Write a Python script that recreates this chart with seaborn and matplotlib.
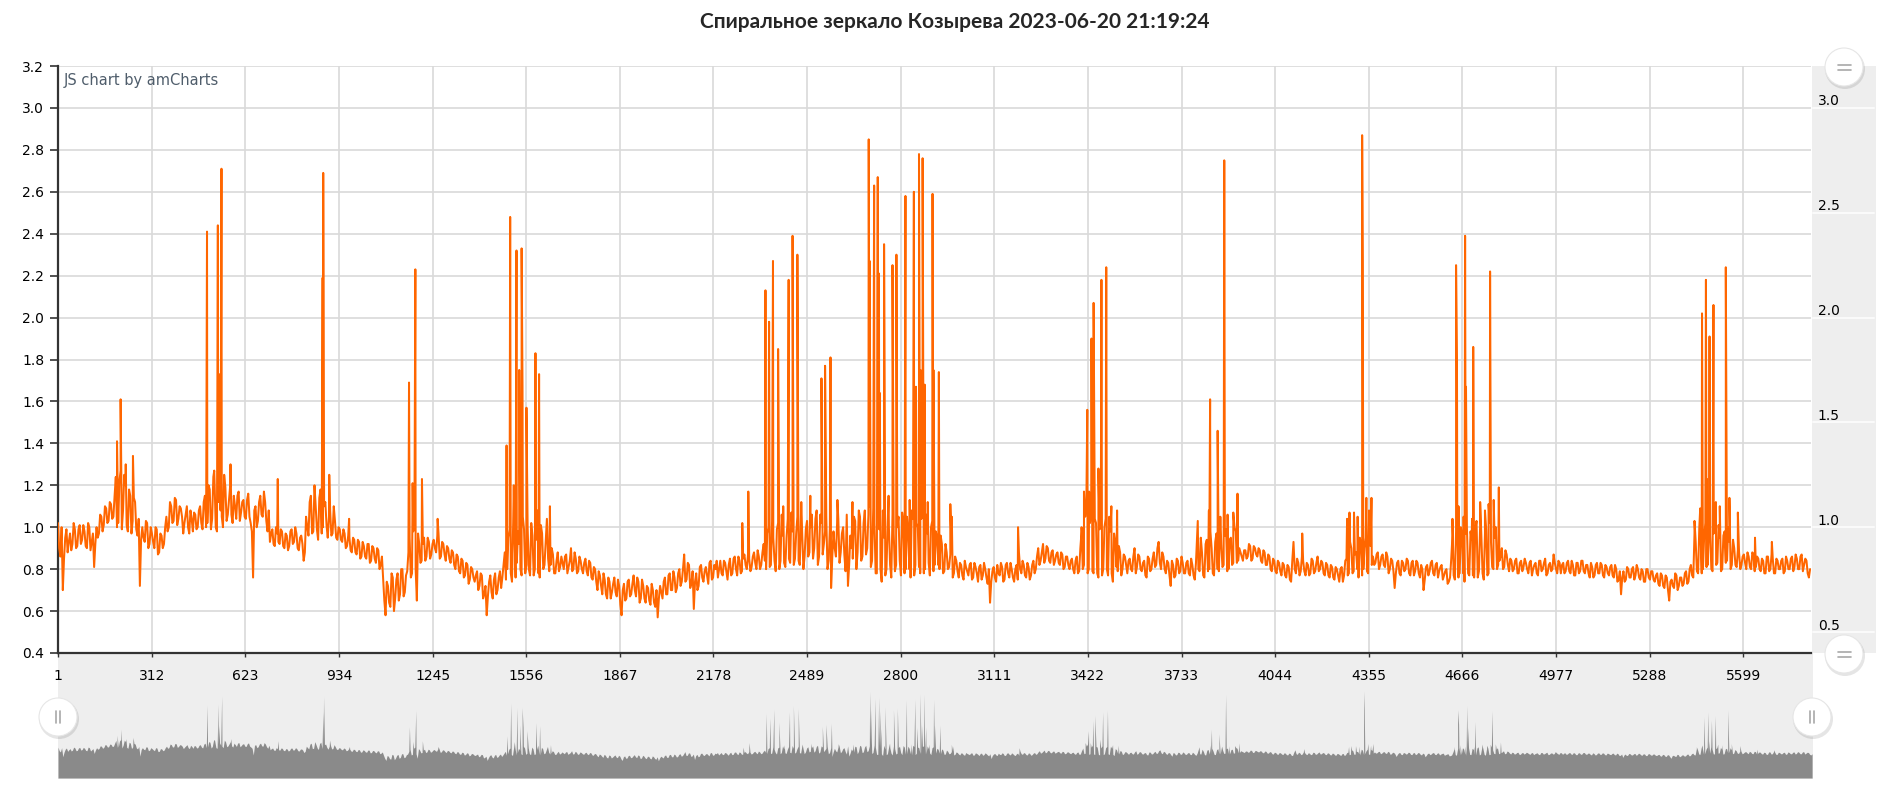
import numpy as np
import pandas as pd
import matplotlib
matplotlib.use("Agg")
import matplotlib.pyplot as plt
from matplotlib.patches import Circle
import seaborn as sns

# ---------------- data ----------------
title = "Спиральное зеркало Козырева 2023-06-20 21:19:24"
x_tick_labels = [1, 312, 623, 934, 1245, 1556, 1867, 2178, 2489, 2800, 3111,
                 3422, 3733, 4044, 4355, 4666, 4977, 5288, 5599]
y_left_ticks = [0.4, 0.6, 0.8, 1.0, 1.2, 1.4, 1.6, 1.8, 2.0, 2.2, 2.4, 2.6, 2.8, 3.0, 3.2]
y_right_ticks = [0.5, 1.0, 1.5, 2.0, 2.5, 3.0]
n_points = 5824

# background level at samples 1, 9, 17, ... (one row = one grid cell of 311 samples)
level = [
    1.02, 0.86, 0.70, 0.95, 0.88, 0.97, 0.92, 0.99, 0.91, 1.01, 0.94, 0.98, 0.90, 1.00, 0.93, 0.81, 1.00, 0.97, 1.05, 1.01, 1.09, 1.03, 1.11, 1.05, 1.24, 1.02, 1.27, 1.08, 1.20, 0.98, 1.15, 1.03, 1.12, 0.96, 0.72, 1.00, 0.93, 1.02, 0.92,
    0.97, 0.90, 0.99, 0.88, 0.96, 0.92, 1.05, 1.00, 1.10, 1.03, 1.13, 1.04, 1.09, 0.97, 1.06, 1.00, 1.08, 0.98, 1.06, 1.00, 1.10, 0.99, 1.15, 1.02, 1.18, 1.04, 1.22, 0.98, 1.16, 1.05, 1.25, 1.03, 1.13, 1.06, 1.15, 1.04, 1.17, 1.07, 1.13,
    1.04, 1.16, 1.02, 0.76, 1.10, 1.03, 1.15, 1.05, 1.12, 0.98, 0.93, 0.99, 0.91, 0.97, 0.92, 0.98, 0.90, 0.96, 0.91, 0.99, 0.93, 0.97, 0.89, 0.96, 0.84, 1.05, 0.96, 1.15, 0.98, 1.10, 0.94, 1.18, 1.00, 1.12, 0.95, 1.08, 0.97, 1.03, 0.94,
    0.99, 0.93, 0.97, 0.91, 0.95, 0.88, 0.94, 0.87, 0.93, 0.86, 0.91, 0.85, 0.92, 0.84, 0.90, 0.83, 0.89, 0.82, 0.75, 0.58, 0.72, 0.62, 0.76, 0.66, 0.78, 0.68, 0.80, 0.69, 0.79, 0.95, 0.78, 1.02, 0.65, 0.92, 0.84, 0.95, 0.86, 0.93, 0.87,
    0.94, 0.88, 0.97, 0.86, 0.92, 0.84, 0.90, 0.83, 0.88, 0.80, 0.86, 0.78, 0.84, 0.77, 0.82, 0.75, 0.80, 0.74, 0.79, 0.72, 0.77, 0.68, 0.58, 0.74, 0.69, 0.75, 0.68, 0.76, 0.71, 0.82, 0.75, 0.95, 0.78, 1.02, 0.76, 0.98, 0.80, 1.05, 0.78,
    1.00, 0.77, 0.96, 0.80, 1.08, 0.76, 0.97, 0.82, 1.04, 0.79, 0.90, 0.78, 0.84, 0.79, 0.86, 0.80, 0.87, 0.81, 0.90, 0.80, 0.85, 0.79, 0.84, 0.78, 0.85, 0.77, 0.83, 0.75, 0.80, 0.70, 0.77, 0.68, 0.75, 0.66, 0.74, 0.69, 0.76, 0.67, 0.72,
    0.58, 0.73, 0.66, 0.75, 0.68, 0.77, 0.67, 0.74, 0.66, 0.72, 0.64, 0.71, 0.63, 0.70, 0.62, 0.57, 0.72, 0.66, 0.76, 0.68, 0.78, 0.70, 0.76, 0.71, 0.80, 0.74, 0.87, 0.75, 0.82, 0.73, 0.61, 0.78, 0.72, 0.82, 0.74, 0.81, 0.73, 0.84, 0.76,
    0.80, 0.76, 0.84, 0.77, 0.83, 0.75, 0.85, 0.78, 0.86, 0.77, 0.84, 0.79, 0.87, 0.80, 0.85, 0.81, 0.88, 0.80, 0.86, 0.82, 0.92, 0.80, 1.00, 0.82, 0.95, 0.79, 1.02, 0.84, 0.96, 0.81, 1.04, 0.83, 0.98, 0.85, 1.05, 0.82, 0.97, 0.86, 1.03,
    0.88, 1.06, 0.90, 1.08, 0.86, 1.02, 0.92, 1.05, 0.84, 0.71, 0.98, 0.86, 1.04, 0.88, 1.00, 0.79, 0.72, 0.96, 0.85, 1.03, 0.88, 1.05, 0.86, 1.08, 0.90, 1.10, 0.84, 1.02, 0.78, 0.99, 0.74, 0.95, 0.80, 1.00, 0.76, 0.97, 0.82, 1.05, 0.77,
    1.02, 0.80, 0.98, 0.76, 1.04, 0.82, 1.00, 0.78, 1.06, 0.80, 0.97, 0.77, 1.03, 0.82, 0.95, 0.80, 0.92, 0.79, 0.88, 0.81, 0.90, 0.78, 0.84, 0.76, 0.82, 0.75, 0.81, 0.77, 0.83, 0.76, 0.81, 0.74, 0.82, 0.77, 0.80, 0.73, 0.64, 0.79, 0.76,
    0.82, 0.77, 0.81, 0.75, 0.83, 0.76, 0.80, 0.74, 0.82, 0.88, 0.78, 0.82, 0.76, 0.81, 0.77, 0.84, 0.80, 0.90, 0.84, 0.92, 0.85, 0.90, 0.83, 0.89, 0.84, 0.88, 0.82, 0.87, 0.81, 0.86, 0.80, 0.85, 0.78, 0.86, 0.79, 0.98, 0.82, 1.12, 0.80,
    1.08, 0.78, 1.02, 0.76, 1.06, 0.80, 1.04, 0.77, 0.98, 0.74, 0.93, 0.79, 0.88, 0.80, 0.86, 0.78, 0.85, 0.79, 0.90, 0.81, 0.86, 0.79, 0.84, 0.76, 0.85, 0.80, 0.88, 0.82, 0.93, 0.80, 0.86, 0.78, 0.83, 0.72, 0.82, 0.77, 0.84, 0.79, 0.83,
    0.78, 0.84, 0.77, 0.82, 0.75, 0.96, 0.79, 0.88, 0.76, 0.94, 0.80, 0.90, 0.77, 0.97, 0.79, 0.92, 0.82, 0.99, 0.80, 0.95, 0.83, 0.98, 0.84, 0.88, 0.84, 0.89, 0.86, 0.91, 0.85, 0.90, 0.86, 0.89, 0.83, 0.88, 0.82, 0.86, 0.79, 0.84, 0.78,
    0.83, 0.77, 0.82, 0.76, 0.81, 0.74, 0.93, 0.78, 0.83, 0.79, 0.84, 0.77, 0.82, 0.78, 0.84, 0.79, 0.86, 0.80, 0.83, 0.77, 0.82, 0.76, 0.81, 0.75, 0.80, 0.74, 0.81, 0.77, 0.85, 0.78, 0.90, 0.79, 0.88, 0.76, 0.92, 0.80, 0.95, 0.78, 0.91,
    0.86, 0.83, 0.88, 0.82, 0.87, 0.81, 0.86, 0.80, 0.84, 0.71, 0.83, 0.78, 0.84, 0.79, 0.85, 0.78, 0.83, 0.77, 0.84, 0.78, 0.82, 0.70, 0.81, 0.77, 0.83, 0.78, 0.82, 0.76, 0.81, 0.75, 0.79, 0.73, 0.76, 0.96, 0.75, 1.02, 0.78, 0.95, 0.74,
    1.00, 0.77, 0.94, 0.76, 1.03, 0.79, 0.96, 0.75, 0.99, 0.78, 0.93, 0.80, 1.00, 0.82, 0.86, 0.80, 0.89, 0.82, 0.85, 0.79, 0.84, 0.78, 0.83, 0.79, 0.85, 0.80, 0.83, 0.77, 0.82, 0.78, 0.84, 0.79, 0.83, 0.77, 0.82, 0.79, 0.87, 0.80, 0.84,
    0.78, 0.83, 0.79, 0.84, 0.78, 0.82, 0.77, 0.83, 0.79, 0.84, 0.78, 0.82, 0.76, 0.81, 0.77, 0.83, 0.78, 0.82, 0.76, 0.81, 0.77, 0.82, 0.76, 0.80, 0.75, 0.68, 0.79, 0.75, 0.80, 0.76, 0.81, 0.77, 0.80, 0.75, 0.79, 0.74, 0.80, 0.75, 0.79,
    0.74, 0.78, 0.72, 0.77, 0.71, 0.76, 0.65, 0.75, 0.71, 0.77, 0.72, 0.76, 0.73, 0.79, 0.74, 0.82, 0.76, 0.93, 0.78, 0.98, 0.80, 1.02, 0.82, 0.96, 0.79, 1.00, 0.83, 0.95, 0.80, 0.98, 0.84, 0.93, 0.82, 0.90, 0.81, 0.88, 0.82, 0.87, 0.80,
    0.86, 0.80, 0.87, 0.81, 0.85, 0.79, 0.84, 0.78, 0.86, 0.80, 0.85, 0.78, 0.84, 0.80, 0.85, 0.79, 0.84, 0.80, 0.86, 0.81, 0.85, 0.80, 0.87, 0.82, 0.84, 0.76,
]

# in-between samples 5, 13, 21, ... (same row layout)
level_b = [
    0.90, 1.00, 0.85, 0.99, 0.93, 0.89, 1.02, 0.90, 0.99, 0.92, 1.01, 0.91, 1.02, 0.89, 0.97, 0.92, 0.95, 1.06, 0.98, 1.10, 1.02, 1.12, 1.04, 1.15, 1.00, 1.22, 0.99, 1.25, 1.01, 1.18, 0.97, 1.14, 0.99, 1.04, 0.94, 0.95, 1.03, 0.90, 1.00,
    0.93, 1.00, 0.87, 0.97, 0.90, 1.00, 0.98, 1.12, 1.02, 1.14, 1.01, 1.10, 1.05, 1.02, 1.10, 0.97, 1.04, 1.07, 0.99, 1.08, 1.02, 1.12, 1.00, 1.20, 0.99, 1.24, 1.00, 1.12, 1.08, 1.00, 1.19, 1.06, 1.20, 1.02, 1.10, 1.15, 1.03, 1.12, 1.05,
    1.13, 1.05, 0.98, 1.08, 1.00, 1.12, 1.06, 1.17, 1.03, 1.08, 0.97, 0.92, 1.00, 0.93, 0.99, 0.91, 0.97, 0.89, 0.98, 0.92, 1.00, 0.90, 0.95, 0.92, 0.88, 1.00, 1.12, 0.97, 1.20, 0.99, 1.14, 0.97, 1.10, 1.01, 1.05, 0.96, 1.10, 0.95, 1.00,
    0.94, 0.99, 0.90, 0.96, 0.89, 0.95, 0.88, 0.94, 0.85, 0.93, 0.86, 0.92, 0.83, 0.91, 0.85, 0.90, 0.80, 0.86, 0.65, 0.74, 0.64, 0.78, 0.60, 0.75, 0.65, 0.80, 0.67, 0.77, 0.88, 0.76, 0.98, 0.80, 0.97, 0.83, 0.92, 0.84, 0.95, 0.85, 0.92,
    0.90, 0.96, 0.85, 0.93, 0.87, 0.91, 0.85, 0.89, 0.82, 0.87, 0.79, 0.85, 0.76, 0.83, 0.73, 0.81, 0.76, 0.77, 0.70, 0.78, 0.66, 0.72, 0.67, 0.77, 0.66, 0.78, 0.70, 0.79, 0.76, 0.88, 0.80, 0.99, 0.74, 1.00, 0.83, 0.92, 0.77, 0.99, 0.82,
    0.80, 1.02, 0.77, 0.94, 0.78, 1.01, 0.80, 0.93, 0.85, 0.82, 0.87, 0.78, 0.88, 0.81, 0.83, 0.86, 0.78, 0.84, 0.79, 0.88, 0.78, 0.86, 0.80, 0.83, 0.79, 0.84, 0.76, 0.81, 0.74, 0.79, 0.72, 0.78, 0.68, 0.76, 0.66, 0.73, 0.69, 0.75, 0.63,
    0.70, 0.65, 0.74, 0.67, 0.73, 0.70, 0.76, 0.64, 0.75, 0.66, 0.72, 0.65, 0.73, 0.64, 0.70, 0.66, 0.69, 0.74, 0.68, 0.77, 0.70, 0.79, 0.69, 0.78, 0.72, 0.80, 0.74, 0.83, 0.71, 0.79, 0.74, 0.70, 0.81, 0.76, 0.79, 0.77, 0.83, 0.75, 0.82,
    0.84, 0.80, 0.78, 0.84, 0.79, 0.82, 0.77, 0.85, 0.80, 0.86, 0.78, 0.85, 0.82, 0.87, 0.79, 0.86, 0.83, 0.89, 0.80, 0.88, 0.84, 0.97, 0.81, 1.03, 0.84, 0.99, 0.80, 1.06, 0.83, 0.95, 0.85, 1.07, 0.82, 0.97, 0.84, 1.05, 0.80, 0.99, 0.86,
    1.00, 0.85, 1.04, 0.82, 1.06, 0.87, 0.98, 0.80, 1.00, 0.86, 0.90, 1.02, 0.83, 0.97, 0.87, 1.06, 0.82, 0.90, 1.05, 0.80, 1.08, 0.84, 1.02, 0.87, 1.06, 0.81, 1.09, 0.78, 1.05, 0.80, 1.08, 0.77, 1.02, 0.82, 1.06, 0.79, 1.00, 0.84, 1.07,
    0.78, 1.05, 0.80, 1.08, 0.77, 1.02, 0.81, 1.04, 0.78, 1.06, 0.83, 1.00, 0.79, 0.98, 0.82, 0.96, 0.78, 0.92, 0.80, 0.87, 0.76, 0.86, 0.79, 0.83, 0.77, 0.84, 0.79, 0.82, 0.75, 0.83, 0.78, 0.81, 0.75, 0.83, 0.76, 0.80, 0.74, 0.81, 0.74,
    0.78, 0.83, 0.74, 0.82, 0.78, 0.83, 0.76, 0.80, 0.75, 0.80, 0.84, 0.77, 0.83, 0.75, 0.82, 0.78, 0.86, 0.82, 0.88, 0.83, 0.91, 0.84, 0.88, 0.82, 0.87, 0.83, 0.88, 0.80, 0.86, 0.82, 0.84, 0.80, 0.84, 0.78, 0.90, 0.80, 1.05, 0.78, 1.02,
    0.79, 1.04, 0.78, 0.99, 0.77, 1.00, 0.80, 1.05, 0.78, 0.97, 0.81, 0.91, 0.77, 0.87, 0.82, 0.84, 0.80, 0.86, 0.78, 0.87, 0.80, 0.83, 0.77, 0.86, 0.79, 0.85, 0.81, 0.90, 0.83, 0.88, 0.80, 0.84, 0.77, 0.84, 0.76, 0.85, 0.78, 0.86, 0.78,
    0.83, 0.78, 0.85, 0.77, 0.83, 0.80, 0.95, 0.77, 0.92, 0.79, 0.98, 0.78, 0.93, 0.80, 1.00, 0.81, 0.96, 0.79, 0.94, 0.82, 1.00, 0.83, 0.90, 0.86, 0.89, 0.85, 0.92, 0.84, 0.91, 0.87, 0.90, 0.84, 0.89, 0.82, 0.87, 0.80, 0.85, 0.79, 0.84,
    0.79, 0.83, 0.77, 0.82, 0.75, 0.84, 0.80, 0.85, 0.77, 0.86, 0.79, 0.83, 0.77, 0.85, 0.78, 0.83, 0.79, 0.84, 0.78, 0.83, 0.77, 0.82, 0.76, 0.81, 0.77, 0.80, 0.74, 0.84, 0.77, 0.93, 0.78, 0.87, 0.80, 0.95, 0.77, 0.90, 0.79, 0.94, 0.82,
    0.82, 0.87, 0.80, 0.86, 0.82, 0.88, 0.78, 0.85, 0.79, 0.78, 0.84, 0.77, 0.83, 0.80, 0.84, 0.77, 0.84, 0.79, 0.83, 0.76, 0.80, 0.75, 0.82, 0.79, 0.84, 0.77, 0.83, 0.79, 0.82, 0.77, 0.80, 0.74, 0.85, 0.77, 0.98, 0.76, 1.00, 0.78, 0.97,
    0.78, 0.98, 0.77, 0.99, 0.76, 1.01, 0.78, 0.97, 0.77, 1.02, 0.81, 0.95, 0.80, 0.84, 0.90, 0.81, 0.87, 0.79, 0.84, 0.80, 0.85, 0.78, 0.84, 0.81, 0.83, 0.78, 0.84, 0.80, 0.83, 0.77, 0.84, 0.80, 0.85, 0.78, 0.83, 0.80, 0.83, 0.78, 0.83,
    0.82, 0.78, 0.83, 0.79, 0.84, 0.77, 0.83, 0.78, 0.84, 0.79, 0.82, 0.78, 0.83, 0.76, 0.82, 0.78, 0.83, 0.77, 0.82, 0.78, 0.81, 0.77, 0.82, 0.74, 0.79, 0.76, 0.74, 0.81, 0.76, 0.80, 0.75, 0.82, 0.76, 0.80, 0.74, 0.80, 0.76, 0.79, 0.75,
    0.77, 0.73, 0.78, 0.72, 0.77, 0.70, 0.74, 0.72, 0.78, 0.70, 0.76, 0.72, 0.78, 0.73, 0.80, 0.77, 0.97, 0.79, 1.00, 0.78, 0.95, 0.81, 1.03, 0.80, 0.97, 0.82, 1.01, 0.79, 0.96, 0.83, 1.00, 0.80, 0.94, 0.82, 0.89, 0.80, 0.86, 0.83, 0.88,
    0.81, 0.88, 0.79, 0.86, 0.80, 0.85, 0.78, 0.86, 0.79, 0.87, 0.78, 0.85, 0.80, 0.84, 0.78, 0.86, 0.80, 0.85, 0.79, 0.87, 0.80, 0.86, 0.79, 0.85, 0.78, 0.80,
]

# isolated bursts and excursions: (sample number, value)
spike_idx = [197, 209, 226, 250, 496, 520, 532, 536, 544, 574, 731, 880, 882, 902, 968,
             1167, 1179, 1188, 1210, 1262,
             1491, 1503, 1515, 1524, 1533, 1541, 1544, 1557, 1587, 1599, 1635,
             2274, 2294, 2351, 2363, 2376, 2393, 2410, 2428, 2441, 2457, 2470, 2500,
             2537, 2549, 2567, 2590, 2640,
             2694, 2697, 2700, 2712, 2724, 2728, 2731, 2745, 2760, 2773, 2786, 2816,
             2830, 2844, 2851, 2861, 2866, 2873, 2880, 2890, 2906, 2909, 2927,
             2965, 2970, 3190,
             3401, 3409, 3420, 3426, 3434, 3441, 3457, 3467, 3483, 3500, 3519,
             3787, 3824, 3828, 3853, 3862, 3875, 3886, 3905, 3919,
             4134, 4283, 4291, 4306, 4318, 4333, 4335, 4347, 4356, 4364,
             4633, 4645, 4648, 4653, 4670, 4675, 4678, 4698, 4702, 4725, 4741, 4753,
             4758, 4770, 4787,
             5437, 5456, 5462, 5475, 5478, 5487, 5500, 5508, 5521, 5541, 5553, 5581,
             5638, 5694]
spike_val = [1.41, 1.61, 1.30, 1.34, 2.41, 1.27, 2.44, 1.73, 2.71, 1.30, 1.23, 2.19, 2.69, 1.25, 1.04,
             1.69, 1.21, 2.23, 1.23, 1.04,
             1.39, 2.48, 1.20, 2.32, 1.75, 2.33, 1.67, 1.57, 1.83, 1.73, 1.10,
             1.02, 1.17, 2.13, 1.98, 2.27, 1.85, 1.10, 2.18, 2.39, 2.30, 1.12, 1.15,
             1.71, 1.77, 1.81, 1.13, 1.12,
             2.85, 2.27, 1.12, 2.63, 2.67, 2.21, 1.64, 2.35, 1.15, 2.25, 2.30, 2.58,
             1.13, 2.60, 1.67, 2.78, 1.75, 2.76, 1.68, 1.12, 2.59, 1.75, 1.74,
             1.11, 1.05, 1.00,
             1.00, 1.17, 1.56, 1.17, 1.90, 2.07, 1.28, 2.18, 2.24, 1.10, 1.08,
             1.03, 1.08, 1.61, 1.46, 1.05, 2.75, 1.06, 1.07, 1.16,
             0.97, 1.04, 1.07, 1.07, 1.05, 2.87, 2.26, 1.14, 1.08, 1.14,
             1.04, 2.25, 1.78, 1.10, 1.05, 2.39, 1.67, 1.04, 1.86, 1.12, 1.08, 1.11,
             2.22, 1.13, 1.19,
             1.03, 1.09, 2.02, 2.18, 1.23, 1.91, 2.06, 1.12, 1.10, 2.24, 1.14, 1.07,
             0.95, 0.93]

# ---------------- table ----------------
df = pd.concat([
    pd.DataFrame({"sample": [1 + 8 * i for i in range(len(level))], "value": level}),
    pd.DataFrame({"sample": [5 + 8 * i for i in range(len(level_b))], "value": level_b}),
    pd.DataFrame({"sample": spike_idx, "value": spike_val}),
]).sort_values("sample", kind="stable").reset_index(drop=True)

# ---------------- figure ----------------
sns.set_theme(style="white")
plt.rcParams["font.family"] = ["DejaVu Sans"]

W, H = 1890, 794
fig = plt.figure(figsize=(W / 100, H / 100), dpi=100)


def rect(l, t, r, b):
    return [l / W, 1 - b / H, (r - l) / W, (b - t) / H]


ORANGE = "#ff6600"
GRID = "#d9d9d9"

# navigator (scrollbar) strip
ax_nav = fig.add_axes(rect(58, 653, 1813, 779))
ax_nav.set_facecolor("#eeeeee")
ax_nav.fill_between(df["sample"], df["value"], 0, color="#8a8a8a", lw=0)
ax_nav.set_xlim(1, n_points)
ax_nav.set_ylim(-0.033, 4.125)
ax_nav.set_xticks([])
ax_nav.set_yticks([])
for s in ax_nav.spines.values():
    s.set_visible(False)
ax_nav.set_zorder(1)

# main chart
ax = fig.add_axes(rect(58, 66, 1811, 653))
ax.set_zorder(3)
sns.lineplot(data=df, x="sample", y="value", estimator=None, sort=False,
             color=ORANGE, lw=1.45, ax=ax, zorder=3)
ax.set_xlim(1, n_points)
ax.set_ylim(0.4, 3.2)
ax.set_yticks(y_left_ticks)
ax.set_yticklabels([f"{v:.1f}" for v in y_left_ticks], fontsize=10, color="#000")
ax.set_xticks(x_tick_labels)
ax.set_xticklabels([str(v) for v in x_tick_labels], fontsize=10, color="#000")
ax.set_xlabel("")
ax.set_ylabel("")
ax.grid(True, color=GRID, lw=1.2)
ax.set_axisbelow(True)
for side in ["top", "right"]:
    ax.spines[side].set_visible(False)
for side in ["left", "bottom"]:
    ax.spines[side].set_color("#333333")
    ax.spines[side].set_linewidth(1.6)
ax.tick_params(axis="y", which="major", length=6, width=1.2, color="#333333",
               pad=4, left=True)
ax.tick_params(axis="x", which="major", length=3, width=1.0, color="#333333",
               pad=8.5, bottom=True)
ax.text(0.003, 0.976, "JS chart by amCharts", transform=ax.transAxes,
        ha="left", va="center", fontsize=10.5, color="#4f5d6b")

# right value-axis panel
ax_r = fig.add_axes(rect(1812, 66, 1876, 653))
ax_r.set_facecolor("#eeeeee")
ax_r.set_ylim(0.4, 3.2)
ax_r.set_xlim(0, 1)
ax_r.set_xticks([])
ax_r.set_yticks([])
for s in ax_r.spines.values():
    s.set_visible(False)
for v in y_right_ticks:
    ax_r.axhline(v, xmin=0.02, xmax=0.97, color="#fbfbfb", lw=1.4)
    ax_r.text(0.09, v + 0.012, f"{v:.1f}", ha="left", va="baseline",
              fontsize=10, color="#000")

# title
fig.text(955 / W, 1 - 22 / H, title, ha="center", va="center",
         fontsize=15, fontweight="bold", family=["Lato", "DejaVu Sans"])

# overlay: scroll handles
ax_o = fig.add_axes([0, 0, 1, 1])
ax_o.set_xlim(0, W)
ax_o.set_ylim(H, 0)
ax_o.set_axis_off()
ax_o.set_zorder(10)


def handle(cx, cy, kind):
    ax_o.add_patch(Circle((cx + 1, cy + 2), 20, color="#000000", alpha=0.10, lw=0))
    ax_o.add_patch(Circle((cx, cy), 19, facecolor="white", edgecolor="#e6e6e6", lw=0.8))
    if kind == "=":
        for dy in (-2.5, 2.5):
            ax_o.plot([cx - 6.5, cx + 6.5], [cy + dy, cy + dy], color="#a8a8a8", lw=1.2)
    else:
        for dx in (-2, 2):
            ax_o.plot([cx + dx, cx + dx], [cy - 6, cy + 6], color="#a8a8a8", lw=1.2)


handle(1844, 67, "=")
handle(1844, 654, "=")
handle(58, 717, "|")
handle(1812, 717, "|")

fig.savefig("out.png", dpi=100)
